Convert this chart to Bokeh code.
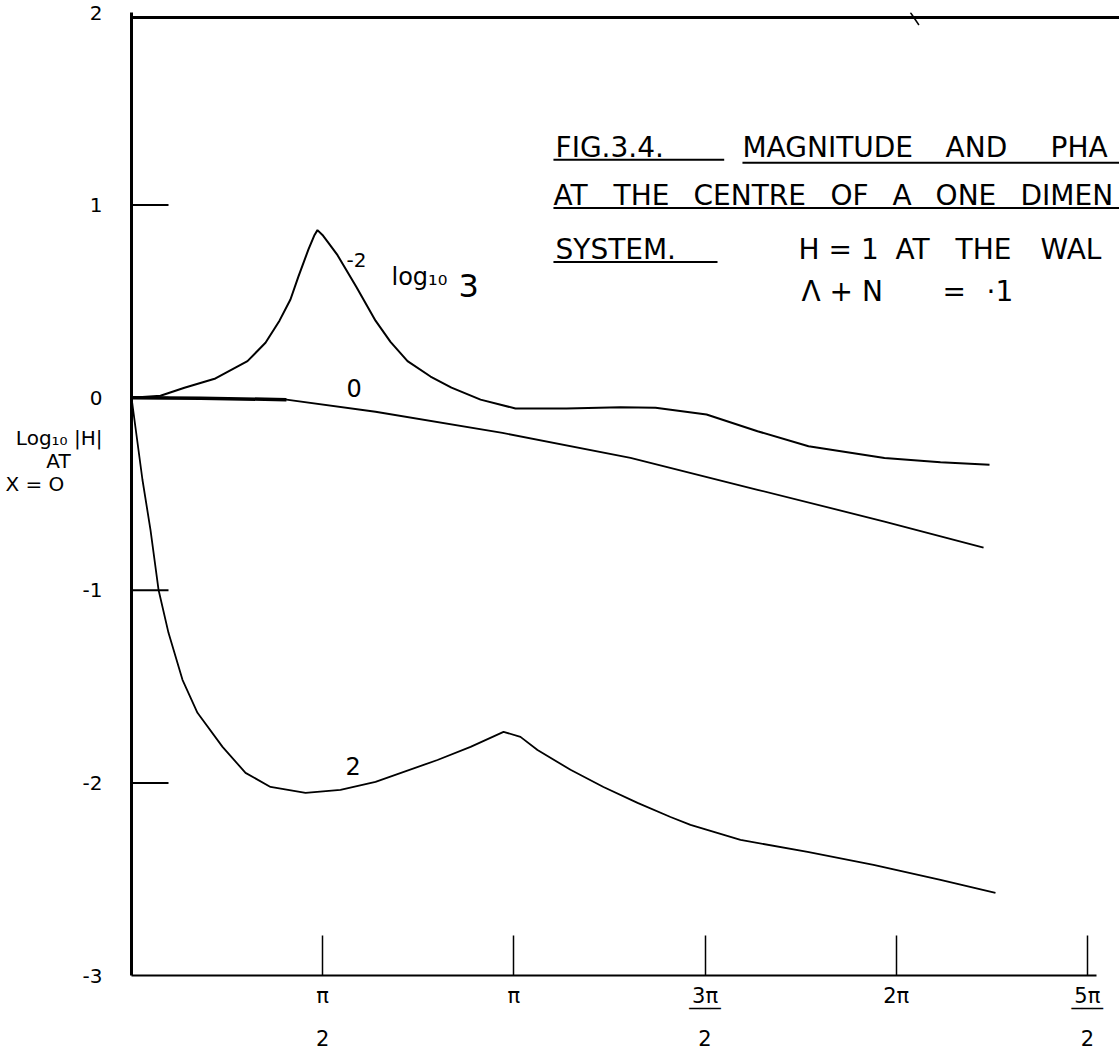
import numpy as np
from bokeh.plotting import figure
from bokeh.models import FixedTicker, Range1d
from bokeh.embed import file_html
from bokeh.resources import INLINE
from bokeh.core.properties import value

# ---------------- data ----------------
x_ticks = [np.pi / 2, np.pi, 3 * np.pi / 2, 2 * np.pi, 5 * np.pi / 2]
x_tick_labels = ["π\n\u00a0\n2", "π", "3π\n‾‾‾\n2", "2π", "5π\n‾‾‾\n2"]
y_ticks = [-3, -2, -1, 0, 1, 2]
y_tick_labels = ["-3", "-2", "-1", "0", "1", "2"]
y_title = "Log₁₀ |H|\nAT" + "\u00a0" * 5 + "\nX = O" + "\u00a0" * 6
y_title_pos = -0.33

# curve labelled -2 (peak near pi/2)
curve_m2_x = [0.000, 0.238, 0.435, 0.690, 0.953, 1.101, 1.216, 1.306, 1.372, 1.454, 1.504,
              1.528, 1.569, 1.635, 1.693, 1.849, 2.005, 2.128, 2.268, 2.457, 2.629, 2.868,
              3.155, 3.574, 4.018, 4.306, 4.725, 5.144, 5.563, 6.187, 6.647, 7.050]
curve_m2_y = [0.000, 0.010, 0.052, 0.100, 0.190, 0.285, 0.400, 0.510, 0.630, 0.770, 0.845,
              0.870, 0.845, 0.790, 0.740, 0.574, 0.400, 0.290, 0.190, 0.110, 0.052, -0.010,
              -0.056, -0.056, -0.050, -0.052, -0.087, -0.174, -0.252, -0.313, -0.335, -0.348]

# curve labelled 0
curve_0_x = [0.000, 0.567, 1.273, 2.005, 3.048, 4.100, 5.144, 6.187, 7.001]
curve_0_y = [0.000, -0.003, -0.010, -0.073, -0.183, -0.313, -0.478, -0.643, -0.779]

# curve labelled 2 (dip near pi/2, cusp near pi)
curve_2_x = [0.000, 0.033, 0.090, 0.156, 0.222, 0.304, 0.419, 0.542, 0.748, 0.937, 1.142,
             1.430, 1.717, 2.005, 2.514, 2.786, 3.057, 3.196, 3.336, 3.607, 3.878, 4.158,
             4.429, 4.593, 5.004, 5.555, 6.097, 6.647, 7.099]
curve_2_y = [0.000, -0.156, -0.426, -0.686, -0.997, -1.221, -1.465, -1.636, -1.813, -1.948,
             -2.021, -2.052, -2.036, -1.995, -1.881, -1.813, -1.735, -1.761, -1.829, -1.932,
             -2.021, -2.104, -2.177, -2.218, -2.296, -2.358, -2.426, -2.504, -2.571]

# fragment of a curve from the plot above, crossing the top border
fragment_x = [6.40, 6.47]
fragment_y = [2.00, 1.935]

# caption words as visible in the (edge-cropped) original: (text, x position, line number)
caption_words = [
    ("FIG.3.4.", 3.484, 1), ("MAGNITUDE", 5.020, 1), ("AND", 6.689, 1), ("PHA", 7.552, 1),
    ("AT", 3.467, 2), ("THE", 3.961, 2), ("CENTRE", 4.618, 2), ("OF", 5.744, 2),
    ("A", 6.253, 2), ("ONE", 6.607, 2), ("DIMEN", 7.305, 2),
    ("SYSTEM.", 3.484, 3), ("H = 1", 5.481, 3), ("AT", 6.278, 3), ("THE", 6.771, 3),
    ("WAL", 7.469, 3),
    ("Λ + N", 5.505, 4), ("=", 6.664, 4), ("·1", 7.026, 4),
]
caption_baselines = {1: 1.30, 2: 1.05, 3: 0.77, 4: 0.55}

# ---------------- figure ----------------
X_END = 8.118
Y_START, Y_END = -3.0, 2.0
FONT = "DejaVu Sans"

p = figure(width=1119, height=1054, output_backend="svg", toolbar_location=None,
           x_range=Range1d(0, X_END), y_range=Range1d(Y_START, Y_END),
           min_border_left=131, min_border_right=0, min_border_top=12, min_border_bottom=79)
p.outline_line_color = None
p.grid.visible = False
p.background_fill_color = "white"
p.border_fill_color = "white"

# y axis (ticks drawn inside as segments below)
ya = p.yaxis[0]
ya.ticker = FixedTicker(ticks=y_ticks + [y_title_pos])
overrides = {t: l for t, l in zip(y_ticks, y_tick_labels)}
overrides[y_title_pos] = y_title
ya.major_label_overrides = overrides
ya.major_tick_in = 0
ya.major_tick_out = 0
ya.minor_tick_in = 0
ya.minor_tick_out = 0
ya.axis_line_width = 3
ya.major_label_standoff = 29
ya.major_label_text_font = FONT
ya.major_label_text_font_size = "20px"
ya.major_label_text_line_height = 0.95
ya.major_label_text_color = "black"

# x axis
xa = p.xaxis[0]
xa.ticker = FixedTicker(ticks=x_ticks)
xa.major_label_overrides = {t: l for t, l in zip(x_ticks, x_tick_labels)}
xa.major_tick_in = 40
xa.major_tick_out = 0
xa.minor_tick_in = 0
xa.minor_tick_out = 0
xa.axis_line_width = 2
xa.major_tick_line_width = 1.5
xa.major_label_standoff = 8
xa.major_label_text_font = FONT
xa.major_label_text_font_size = "21px"
xa.major_label_text_line_height = 0.9
xa.major_label_text_color = "black"
xa.bounds = (0, 7.93)

# inside y ticks (the -3 one lies on the x axis, none at the top border)
tick_len = 37 / 121.7
inner = y_ticks[1:-1]
p.segment(x0=[0] * len(inner), y0=inner, x1=[tick_len] * len(inner), y1=inner,
          line_color="black", line_width=2)

# top border of the drawing
p.line([0, X_END], [1.974, 1.974], line_color="black", line_width=3)

# curves
p.line(curve_m2_x, curve_m2_y, line_color="black", line_width=2)
p.line(curve_0_x, curve_0_y, line_color="black", line_width=1.8)
p.line(curve_0_x[:3], curve_0_y[:3], line_color="black", line_width=3.5)
p.line(curve_2_x, curve_2_y, line_color="black", line_width=1.8)
p.line(fragment_x, fragment_y, line_color="black", line_width=1.5)


def txt(x, y, s, size, baseline="middle"):
    p.text(x=[x], y=[y], text=[s], text_font=value(FONT), text_font_size=size,
           text_align="left", text_baseline=baseline, text_color="black")


# curve labels
txt(1.767, 0.713, "-2", "20px")
txt(2.136, 0.625, "log₁₀", "24px")
txt(2.687, 0.585, "3", "32px")
txt(1.767, 0.05, "0", "24px")
txt(1.758, -1.91, "2", "24px")

# caption block
for word, xw, line in caption_words:
    txt(xw, caption_baselines[line], word, "28px", baseline="alphabetic")

# underlines
p.line([3.467, 4.87], [1.235, 1.235], line_color="black", line_width=2)
p.line([5.02, X_END], [1.22, 1.22], line_color="black", line_width=2)
p.line([3.467, X_END], [0.985, 0.985], line_color="black", line_width=2)
p.line([3.467, 4.815], [0.705, 0.705], line_color="black", line_width=2)

open("out.html", "w").write(file_html(p, INLINE))
